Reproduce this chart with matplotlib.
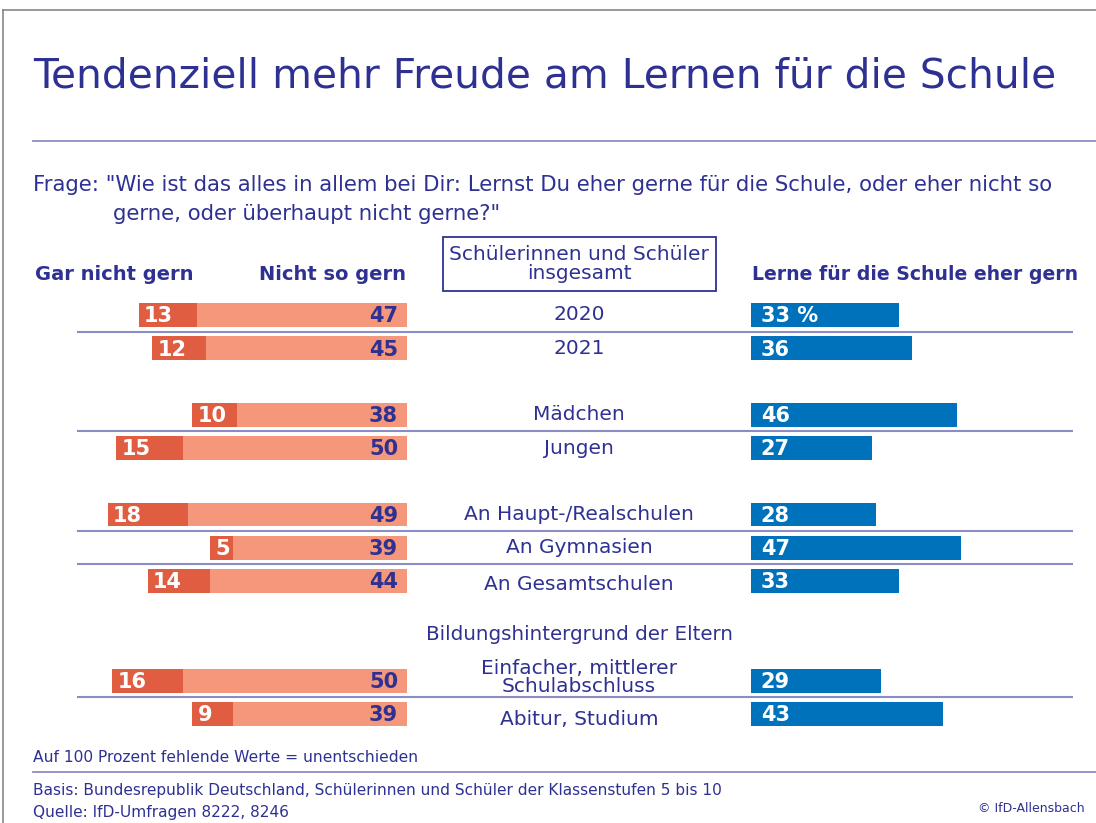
import matplotlib
matplotlib.use("Agg")
import matplotlib.pyplot as plt
from matplotlib.patches import Rectangle
from matplotlib.lines import Line2D

# ---- data ----
categories = ["2020", "2021", "Mädchen", "Jungen", "An Haupt-/Realschulen",
              "An Gymnasien", "An Gesamtschulen",
              "Einfacher, mittlerer\nSchulabschluss", "Abitur, Studium"]
row_pos = [0, 1, 3, 4, 6, 7, 8, 11, 12]
gar_nicht_gern = [13, 12, 10, 15, 18, 5, 14, 16, 9]
nicht_so_gern = [47, 45, 38, 50, 49, 39, 44, 50, 39]
eher_gern = [33, 36, 46, 27, 28, 47, 33, 29, 43]
eher_gern_labels = ["33 %", "36", "46", "27", "28", "47", "33", "29", "43"]
separators_after = [0, 3, 6, 7, 11]

W, H = 1096, 823
DARK = "#2e3192"
C_DARK = "#e05d42"
C_LIGHT = "#f4977a"
C_BLUE = "#0071bb"
C_LINE = "#8c8cc4"
FONT = "DejaVu Sans"

fig = plt.figure(figsize=(W / 100, H / 100), dpi=100)

def fx(px):
    return px / W

def fy(py):
    return 1 - py / H

# frame
fig.add_artist(Line2D([fx(3), fx(3)], [fy(10), fy(823)], color="#888888", lw=1.2))
fig.add_artist(Line2D([fx(3), 1], [fy(10), fy(10)], color="#888888", lw=1.2))

# title and rules
fig.text(fx(33), fy(76), "Tendenziell mehr Freude am Lernen für die Schule",
         fontsize=29.3, color=DARK, va="center", ha="left", family=FONT)
fig.add_artist(Line2D([fx(33), 1], [fy(141), fy(141)], color=C_LINE, lw=1.3))
fig.text(fx(33), fy(185), 'Frage: "Wie ist das alles in allem bei Dir: Lernst Du eher gerne für die Schule, oder eher nicht so',
         fontsize=15.3, color=DARK, va="center", ha="left", family=FONT)
fig.text(fx(113), fy(214), 'gerne, oder überhaupt nicht gerne?"',
         fontsize=15.3, color=DARK, va="center", ha="left", family=FONT)

# headers
fig.text(fx(35), fy(275), "Gar nicht gern", fontsize=14, fontweight="bold",
         color=DARK, va="center", ha="left", family=FONT)
fig.text(fx(406), fy(275), "Nicht so gern", fontsize=14, fontweight="bold",
         color=DARK, va="center", ha="right", family=FONT)
fig.text(fx(1078), fy(275), "Lerne für die Schule eher gern", fontsize=13.6,
         fontweight="bold", color=DARK, va="center", ha="right", family=FONT)
fig.add_artist(Rectangle((fx(443), fy(291)), fx(716) - fx(443), fy(237) - fy(291),
                         fill=False, edgecolor=DARK, lw=1.3))
fig.text(fx(579), fy(264), "Schülerinnen und Schüler\ninsgesamt", fontsize=14.5,
         color=DARK, va="center", ha="center", family=FONT, linespacing=0.95)

# axes geometry
step = 33.25
y_top = 315 - step / 2
y_bot = 315 + 12.5 * step
scale = 4.47
left_l, left_r = 77, 407
right_l, right_r = 751, 1073

axbg = fig.add_axes([fx(left_l), fy(y_bot), fx(right_r) - fx(left_l), fy(y_top) - fy(y_bot)])
axbg.set_xlim(0, 1)
axbg.set_ylim(12.5, -0.5)
axbg.axis("off")
for s in separators_after:
    axbg.axhline(s + 0.5, color=C_LINE, lw=1.5, xmin=0, xmax=1)

axl = fig.add_axes([fx(left_l), fy(y_bot), fx(left_r) - fx(left_l), fy(y_top) - fy(y_bot)])
axl.set_xlim((left_r - left_l) / scale, 0)
axl.set_ylim(12.5, -0.5)
axl.axis("off")

axr = fig.add_axes([fx(right_l), fy(y_bot), fx(right_r) - fx(right_l), fy(y_top) - fy(y_bot)])
axr.set_xlim(0, (right_r - right_l) / scale)
axr.set_ylim(12.5, -0.5)
axr.axis("off")

bh = 0.72
axl.barh(row_pos, nicht_so_gern, height=bh, color=C_LIGHT, left=0)
axl.barh(row_pos, gar_nicht_gern, height=bh, color=C_DARK, left=nicht_so_gern)
axr.barh(row_pos, eher_gern, height=bh, color=C_BLUE)

for y, a, b in zip(row_pos, gar_nicht_gern, nicht_so_gern):
    axl.text(2, y + 0.04, str(b), color=DARK, fontsize=15, fontweight="bold",
             ha="right", va="center", family=FONT)
    axl.text(a + b - 1.2, y + 0.04, str(a), color="white", fontsize=15,
             fontweight="bold", ha="left", va="center", family=FONT)
for y, lab in zip(row_pos, eher_gern_labels):
    axr.text(2.2, y + 0.04, lab, color="white", fontsize=15, fontweight="bold",
             ha="left", va="center", family=FONT)

# category labels
cx = 579
for y, cat in zip(row_pos, categories):
    dy = 0
    if cat.startswith("Abitur"):
        dy = 0.17
    elif cat.startswith("An Ges"):
        dy = 0.12
    elif "\n" in cat:
        dy = -0.1
    fig.text(fx(cx), fy(315 + (y + dy) * step), cat, fontsize=14.5, color=DARK,
             ha="center", va="center", family=FONT, linespacing=0.95)
fig.text(fx(cx), fy(634), "Bildungshintergrund der Eltern", fontsize=14.3,
         color=DARK, ha="center", va="center", family=FONT)

# footer
fig.text(fx(33), fy(757), "Auf 100 Prozent fehlende Werte = unentschieden",
         fontsize=11.2, color=DARK, ha="left", va="center", family=FONT)
fig.add_artist(Line2D([fx(33), 1], [fy(772), fy(772)], color=C_LINE, lw=1.3))
fig.text(fx(33), fy(790), "Basis: Bundesrepublik Deutschland, Schülerinnen und Schüler der Klassenstufen 5 bis 10",
         fontsize=11.1, color=DARK, ha="left", va="center", family=FONT)
fig.text(fx(33), fy(813), "Quelle: IfD-Umfragen 8222, 8246",
         fontsize=11.1, color=DARK, ha="left", va="center", family=FONT)
fig.text(fx(1085), fy(808), "© IfD-Allensbach", fontsize=9, color=DARK,
         ha="right", va="center", family=FONT)

fig.savefig("out.png", dpi=100)
